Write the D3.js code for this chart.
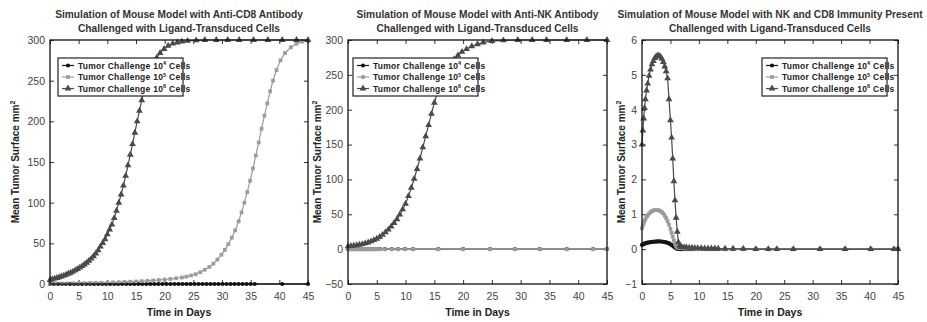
<!DOCTYPE html>
<html>
<head>
<meta charset="utf-8">
<script src="https://cdn.jsdelivr.net/npm/d3@7"></script>
<style>
  body { margin: 0; background: #fff; }
  text { font-family: "Liberation Sans", Arial, sans-serif; }
</style>
</head>
<body>
<svg id="chart"></svg>
<script>
const width = 927;
const height = 322;

// x ticks shared by all three panels
const xTicks = [0, 5, 10, 15, 20, 25, 30, 35, 40, 45];
const legendLabels = ["4", "5", "6"]; // exponent of 10 in "Tumor Challenge 10^n Cells"

// Panel 1: anti-CD8 antibody
const cd8T4 = [0,0.7,1.4,2.1,2.8,3.5,4.2,4.9,5.6,6.3,7,7.7,8.4,9.1,9.8,10.5,11.2,11.9,12.6,13.3,14,14.7,15.4,16.1,16.8,17.5,18.2,18.9,19.6,20.3,21,21.7,22.4,23.1,23.8,24.5,25.2,25.9,26.6,27.3,28,28.7,29.4,30.1,30.8,31.5,32.2,32.9,33.6,34.3,35,35.7,40.5,45];
const cd8V4 = [0,0,0,0,0,0,0,0,0,0,0,0,0,0,0,0,0,0,0,0,0,0,0,0,0,0,0,0,0,0,0,0,0,0,0,0,0,0,0,0,0,0,0,0,0,0,0,0,0,0,0,0,0,0];
const cd8T5 = [0,1,2,3,4,5,6,7,8,9,10,11,12,13,14,15,16,17,18,19,20,21,22,23,23.8,24.6,25.4,26.2,27,27.8,28.5,29.2,29.9,30.5,31.1,31.7,32.3,32.9,33.4,33.9,34.4,34.9,35.4,35.9,36.4,36.9,37.4,37.9,38.4,38.9,39.5,40.2,41,42,43,44,45];
const cd8V5 = [0.5,0.6,0.7,0.8,0.9,1.0,1.1,1.3,1.4,1.6,1.8,2.0,2.2,2.5,2.8,3.1,3.5,3.9,4.4,4.9,5.5,6.2,7,8,9,10.5,12,14.5,17.5,21,25,30,36,42,49,57,66,77,88,100,113,127,142,158,174,191,207,222,237,250,263,275,284,291,295.5,298,299];
const cd8T6 = [0,0.4,0.8,1.2,1.6,2,2.4,2.8,3.2,3.6,4,4.4,4.8,5.2,5.6,6,6.4,6.8,7.2,7.6,8,8.4,8.8,9.2,9.6,10,10.4,10.8,11.2,11.6,12,12.4,12.8,13.2,13.6,14,14.4,14.8,15.2,15.6,16,16.5,17,17.5,18,18.6,19.2,19.9,20.6,21.4,22.2,23,24,25.5,27,29,31,33,35.5,38,40.5,43,45];
const cd8V6 = [5,5.8,6.6,7.4,8.3,9.3,10.3,11.4,12.6,13.9,15.3,16.8,18.4,20.1,22,24,26.2,28.6,31.2,34.2,37.5,41.5,46,50.5,55,61,67,73,81,90,100,110,121,133,146,159,172,186,200,213,226,240,252,262,270,278,284,289,293,295.5,297,298,299,299.5,300,300,300,300,300,300,300,300,300];

// Panel 2: anti-NK antibody
const nkT4 = [0,0.25,0.5,0.75,1,1.25,1.5,1.75,2,2.25,2.5,2.75,3,3.25,3.5,3.75,4,4.25,4.5,4.75,5,5.6,6.4,7.6,8.7,9.9,11.3,15.7,20,24.7,29,33.3,38,42.6,45];
const nkV4 = [0,0,0,0,0,0,0,0,0,0,0,0,0,0,0,0,0,0,0,0,0,0,0,0,0,0,0,0,0,0,0,0,0,0,0];
const nkT5 = [0,0.25,0.5,0.75,1,1.25,1.5,1.75,2,2.25,2.5,2.75,3,3.25,3.5,3.75,4,4.25,4.5,4.75,5,5.6,6.4,7.6,8.7,9.9,11.3,15.7,20,24.7,29,33.3,38,42.6,45];
const nkV5 = [0,0,0,0,0,0,0,0,0,0,0,0,0,0,0,0,0,0,0,0,0,0,0,0,0,0,0,0,0,0,0,0,0,0,0];
const nkT6 = [0,0.5,1,1.5,2,2.5,3,3.5,4,4.5,5,5.5,6,6.5,7,7.5,8,8.5,9,9.5,10,10.5,11,11.5,12,12.5,13,13.5,14,14.5,15,15.5,16,16.6,17.2,17.8,18.4,19.1,19.8,20.6,21.5,22.5,23.5,25,27,29.5,32,34.5,38,41.5,45];
const nkV6 = [4,4.5,5,5.6,6.3,7.2,8.3,9.6,11.2,13,15,17.5,20.5,24,28,32.5,37.5,43,49.5,57,65,76,88,101,115,130,146,162,178,194,210,224,236,248,258,266,272,278,283,287,291,294,296.5,298.5,299.5,300,300,300,300,300,300];

// Panel 3: NK and CD8 immunity present
const bothT = [0,0.15,0.3,0.45,0.6,0.8,1,1.25,1.5,1.75,2,2.25,2.5,2.75,3,3.25,3.5,3.75,4,4.25,4.5,4.75,5,5.2,5.4,5.6,5.8,6,6.2,6.4,6.6,6.8,7,7.4,7.8,8.3,8.8,9.3,9.8,10.4,11,11.6,12.2,12.8,13.4,14.6,16,17.8,20,22.2,23.7,26.6,31.3,35.7,40.2,44.3,45];
const bothV4 = [0.12,0.135,0.148,0.158,0.167,0.177,0.185,0.193,0.2,0.206,0.211,0.215,0.218,0.22,0.22,0.219,0.216,0.211,0.204,0.194,0.18,0.163,0.14,0.12,0.095,0.07,0.045,0.025,0.012,0.006,0.004,0.003,0.003,0.002,0.002,0.002,0.002,0.002,0.002,0.002,0.002,0.002,0.002,0.002,0.002,0,0,0,0,0,0,0,0,0,0,0,0];
const bothV5 = [0.6,0.68,0.75,0.81,0.86,0.92,0.97,1.02,1.06,1.09,1.11,1.12,1.12,1.12,1.11,1.09,1.06,1.02,0.96,0.89,0.8,0.7,0.58,0.47,0.36,0.25,0.15,0.08,0.05,0.04,0.03,0.03,0.03,0.02,0.02,0.02,0.02,0.01,0.01,0.01,0.01,0.01,0.01,0.01,0.01,0,0,0,0,0,0,0,0,0,0,0,0];
const bothV6 = [3.0,3.4,3.75,4.05,4.3,4.55,4.75,4.97,5.15,5.3,5.4,5.48,5.53,5.55,5.55,5.52,5.46,5.37,5.24,5.1,4.9,4.3,3.7,3.2,2.6,1.95,1.4,0.9,0.5,0.2,0.1,0.07,0.06,0.05,0.05,0.04,0.04,0.03,0.03,0.03,0.02,0.02,0.02,0.02,0.01,0.01,0.01,0.01,0,0,0,0,0,0,0,0,0];

// marker/line style per tumor challenge size
const styles = [
  { color: "#151515", symbol: d3.symbolCircle, size: 14 },
  { color: "#9b9b9b", symbol: d3.symbolSquare, size: 14 },
  { color: "#4a4a4a", symbol: d3.symbolTriangle, size: 20 }
];

const panels = [
  {
    title: ["Simulation of Mouse Model with Anti-CD8 Antibody", "Challenged with Ligand-Transduced Cells"],
    left: 50, right: 308, yDomain: [0, 300], yTicks: [0, 50, 100, 150, 200, 250, 300],
    series: [[cd8T4, cd8V4], [cd8T5, cd8V5], [cd8T6, cd8V6]],
    legendX: 58, labelX: 19
  },
  {
    title: ["Simulation of Mouse Model with Anti-NK Antibody", "Challenged with Ligand-Transduced Cells"],
    left: 348, right: 607, yDomain: [-50, 300], yTicks: [-50, 0, 50, 100, 150, 200, 250, 300],
    series: [[nkT4, nkV4], [nkT5, nkV5], [nkT6, nkV6]],
    legendX: 353, labelX: 321
  },
  {
    title: ["Simulation of Mouse Model with NK and CD8 Immunity Present", "Challenged with Ligand-Transduced Cells"],
    left: 642, right: 898, yDomain: [-1, 6], yTicks: [-1, 0, 1, 2, 3, 4, 5, 6],
    series: [[bothT, bothV4], [bothT, bothV5], [bothT, bothV6]],
    legendX: 762, labelX: 625
  }
];

const plotTop = 40, plotBottom = 284;

const svg = d3.select("#chart")
    .attr("width", width)
    .attr("height", height);

panels.forEach(p => {
    const x = d3.scaleLinear().domain([0, 45]).range([p.left, p.right]);
    const y = d3.scaleLinear().domain(p.yDomain).range([plotBottom, plotTop]);
    const g = svg.append("g");
    const cx = (p.left + p.right) / 2;

    // title
    p.title.forEach((line, i) => {
        g.append("text")
            .attr("x", cx).attr("y", 18 + i * 14)
            .attr("text-anchor", "middle")
            .attr("font-size", 10.2).attr("font-weight", "bold")
            .attr("fill", "#333")
            .text(line);
    });

    // axes, MATLAB style: ticks pointing in, on all four sides
    const xb = g.append("g").attr("transform", `translate(0,${plotBottom})`)
        .call(d3.axisBottom(x).tickValues(xTicks).tickSizeInner(-4).tickSizeOuter(0).tickPadding(9));
    g.append("g").attr("transform", `translate(0,${plotTop})`)
        .call(d3.axisTop(x).tickValues(xTicks).tickSizeInner(-4).tickSizeOuter(0).tickFormat(""));
    const yl = g.append("g").attr("transform", `translate(${p.left},0)`)
        .call(d3.axisLeft(y).tickValues(p.yTicks).tickFormat(d3.format("d"))
            .tickSizeInner(-4).tickSizeOuter(0).tickPadding(5));
    g.append("g").attr("transform", `translate(${p.right},0)`)
        .call(d3.axisRight(y).tickValues(p.yTicks).tickSizeInner(-4).tickSizeOuter(0).tickFormat(""));
    g.selectAll(".domain").remove();
    g.selectAll(".tick line").attr("stroke", "#333");
    [xb, yl].forEach(a => a.selectAll("text")
        .attr("font-size", 10.5).attr("fill", "#444")
        .attr("font-family", "'Liberation Sans', Arial, sans-serif"));

    // series
    p.series.forEach(([ts, vs], k) => {
        const st = styles[k];
        const pts = ts.map((t, i) => [t, vs[i]]);
        g.append("path")
            .datum(pts)
            .attr("fill", "none")
            .attr("stroke", st.color)
            .attr("stroke-width", 1.2)
            .attr("d", d3.line().x(d => x(d[0])).y(d => y(d[1])));
        g.selectAll(null)
            .data(pts)
            .enter()
            .append("path")
            .attr("transform", d => `translate(${x(d[0])},${y(d[1])})`)
            .attr("d", d3.symbol(st.symbol, st.size))
            .attr("fill", st.color);
    });

    // box
    g.append("rect")
        .attr("x", p.left).attr("y", plotTop)
        .attr("width", p.right - p.left).attr("height", plotBottom - plotTop)
        .attr("fill", "none").attr("stroke", "#111").attr("stroke-width", 1.3);

    // axis labels
    g.append("text")
        .attr("x", cx).attr("y", 315.5)
        .attr("text-anchor", "middle")
        .attr("font-size", 10.5).attr("font-weight", "bold").attr("fill", "#222")
        .text("Time in Days");
    const yt = g.append("text")
        .attr("transform", `translate(${p.labelX},${(plotTop + plotBottom) / 2}) rotate(-90)`)
        .attr("text-anchor", "middle")
        .attr("font-size", 10).attr("font-weight", "bold").attr("fill", "#222");
    yt.append("tspan").text("Mean Tumor Surface mm");
    yt.append("tspan").attr("dy", -4).attr("font-size", 7).text("2");

    // legend
    const lg = g.append("g").attr("transform", `translate(${p.legendX},58)`);
    lg.append("rect")
        .attr("width", 125).attr("height", 38)
        .attr("fill", "#fff").attr("stroke", "#222").attr("stroke-width", 1.2);
    legendLabels.forEach((n, k) => {
        const st = styles[k];
        const ly = 7.5 + k * 11.5;
        lg.append("line")
            .attr("x1", 4).attr("x2", 16).attr("y1", ly).attr("y2", ly)
            .attr("stroke", st.color).attr("stroke-width", 1.2);
        lg.append("path")
            .attr("transform", `translate(10,${ly})`)
            .attr("d", d3.symbol(st.symbol, st.size))
            .attr("fill", st.color);
        const t = lg.append("text")
            .attr("x", 20).attr("y", ly + 3)
            .attr("font-size", 8.5).attr("font-weight", "bold").attr("fill", "#222")
            .attr("letter-spacing", 0.25);
        t.append("tspan").text("Tumor Challenge 10");
        t.append("tspan").attr("dy", -3.5).attr("font-size", 5.5).text(n);
        t.append("tspan").attr("dy", 3.5).text(" Cells");
    });
});
</script>
</body>
</html>
